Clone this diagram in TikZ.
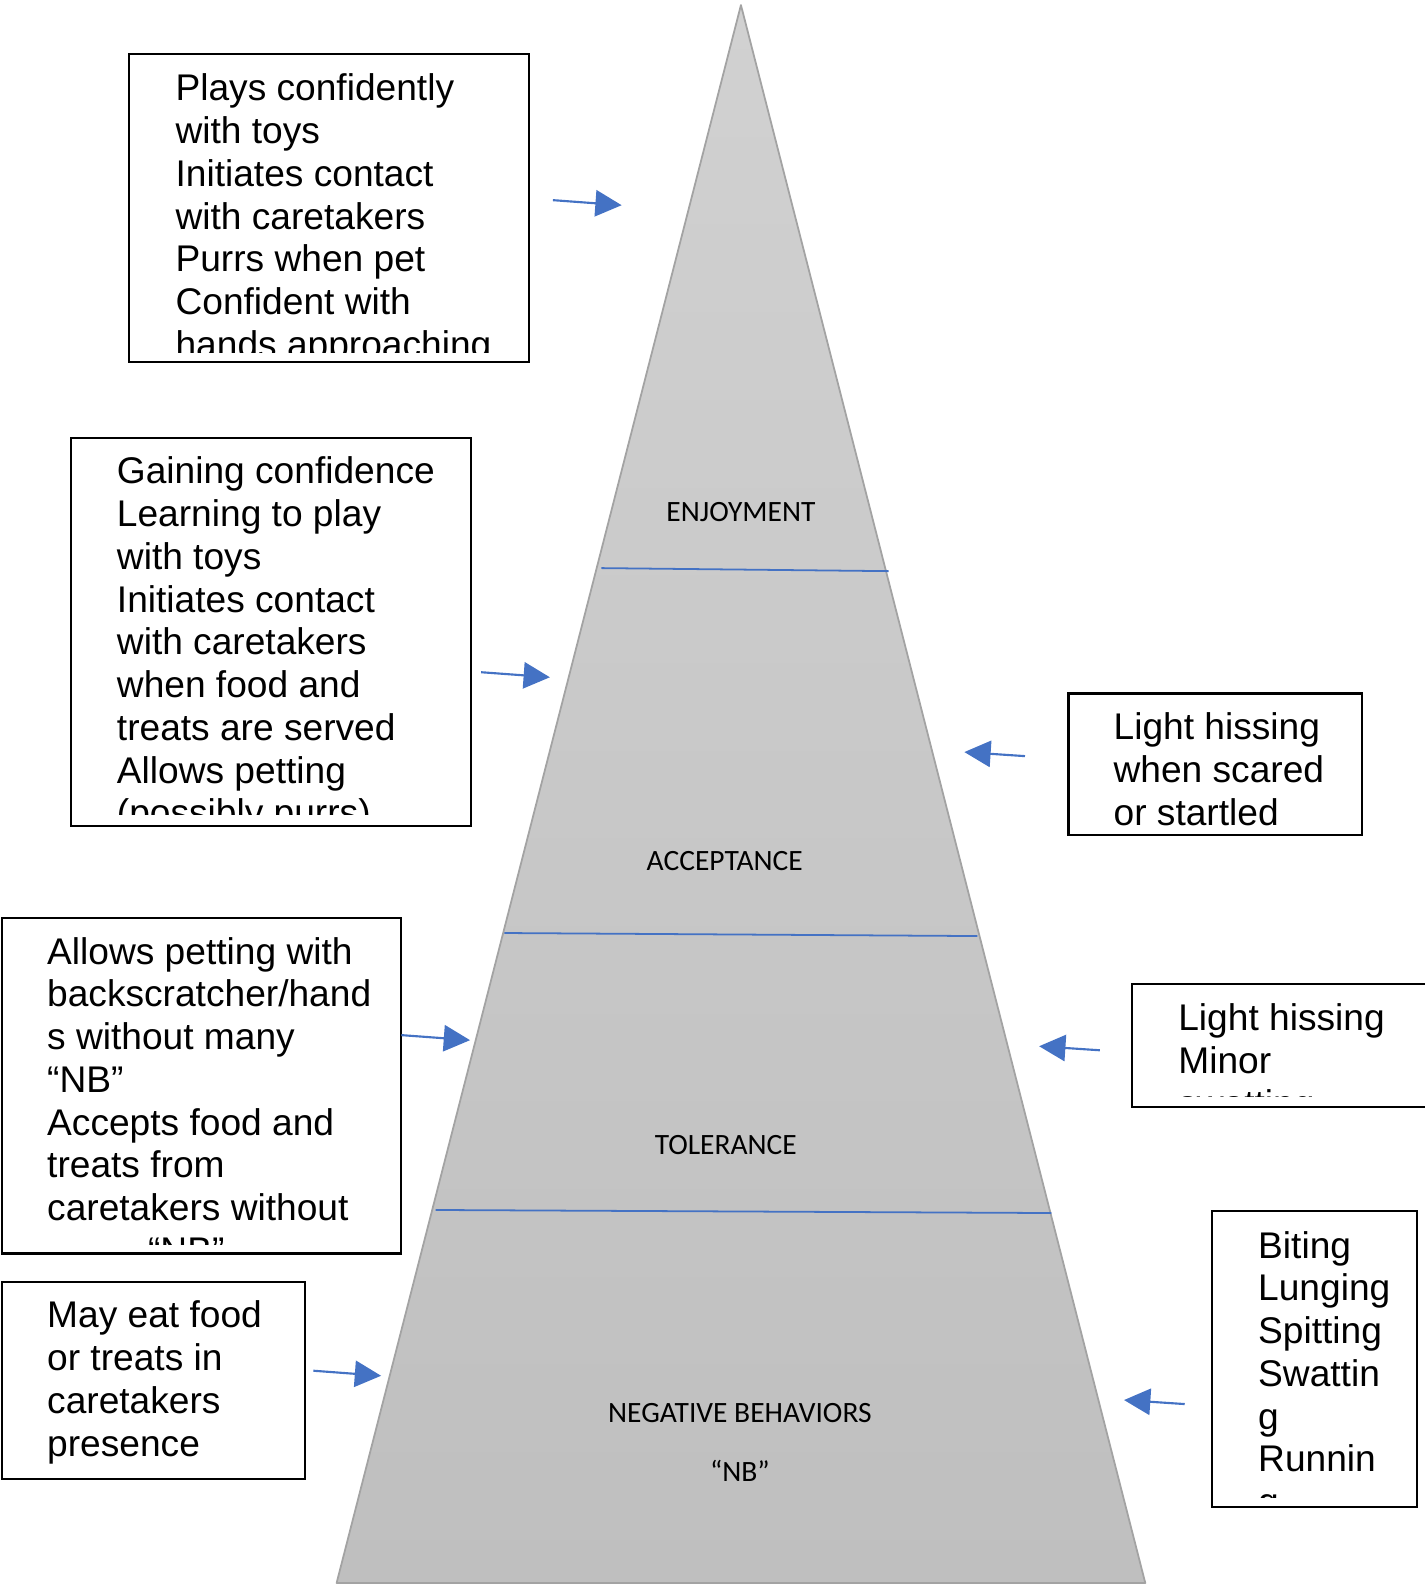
\documentclass[tikz,border=0pt]{standalone}
\usepackage{fontspec}
\setmainfont{Liberation Sans}
\newfontfamily\calibri{Carlito}
\usetikzlibrary{arrows.meta,fit}
\definecolor{arrblue}{HTML}{4472C4}
\definecolor{pyredge}{HTML}{A3A3A3}
\definecolor{pyrtop}{HTML}{D1D1D1}
\definecolor{pyrbot}{HTML}{BFBFBF}
\begin{document}
\begin{tikzpicture}[x=0.1mm,y=-0.1mm,
  boxtext/.style={anchor=north west, inner sep=0pt, align=left, font=\fontsize{10.45}{12.03}\selectfont},
  frame/.style={draw=black, line width=0.6pt, inner sep=0pt},
  levellabel/.style={anchor=base, inner sep=0pt, font=\calibri\fontsize{8.3}{10}\selectfont},
  divider/.style={draw=arrblue, line width=0.5pt},
  pointer/.style={draw=arrblue, line width=0.6pt, -{Triangle[length=7.4pt,width=7.4pt]}}]
\useasboundingbox (0,0) rectangle (1409,1568);

% pyramid
\coordinate (apex) at (733,5);
\coordinate (bl) at (333,1566);
\coordinate (br) at (1133,1566);
\shade[top color=pyrtop, bottom color=pyrbot] (apex) -- (bl) -- (br) -- cycle;
\draw[pyredge, line width=0.5pt, line join=round] (apex) -- (bl) -- (br) -- cycle;

% dividers
\coordinate (d1l) at (595,562); \coordinate (d1r) at (879,565);
\coordinate (d2l) at (499,923); \coordinate (d2r) at (967,926);
\coordinate (d3l) at (431,1197); \coordinate (d3r) at (1040,1200);
\draw[divider] (d1l) -- (d1r);
\draw[divider] (d2l) -- (d2r);
\draw[divider] (d3l) -- (d3r);

% level labels
\node[levellabel] (enj) at (733,516) {ENJOYMENT};
\node[levellabel] (acc) at (717,861) {ACCEPTANCE};
\node[levellabel] (tol) at (718,1142) {TOLERANCE};
\node[levellabel] (neg) at (732,1407) {NEGATIVE BEHAVIORS};
\node[levellabel] (nb) at (732,1466) {“NB”};

% box 1
\begin{scope}
\clip (128,53) rectangle (523,349);
\node[boxtext] (t1) at (173,69.4) {\strut Plays confidently\\with toys\\Initiates contact\\with caretakers\\Purrs when pet\\Confident with\\hands approaching};
\end{scope}
\node[frame, fit={(128,53) (523,358)}] (b1) {};

% box 2
\begin{scope}
\clip (70,433) rectangle (466,806);
\node[boxtext] (t2) at (115,448.4) {\strut Gaining confidence\\Learning to play\\with toys\\Initiates contact\\with caretakers\\when food and\\treats are served\\Allows petting\\(possibly purrs)};
\end{scope}
\node[frame, fit={(70,433) (466,817)}] (b2) {};

% box 3
\begin{scope}
\clip (2,908) rectangle (397,1231);
\node[boxtext] (t3) at (46,923.4) {\strut Allows petting with\\backscratcher/hand\\s without many\\“NB”\\Accepts food and\\treats from\\caretakers without\\\hspace*{28.4pt}“NB”};
\end{scope}
\node[frame, fit={(2,908) (397,1240)}] (b3) {};

% box 4
\node[boxtext] (t4) at (46,1283.4) {\strut May eat food\\or treats in\\caretakers\\presence};
\node[frame, fit={(2,1268) (302,1463)}] (b4) {};

% box 5
\node[boxtext] (t5) at (1101,701.4) {\strut Light hissing\\when scared\\or startled};
\node[frame, fit={(1057,686) (1347,826)}] (b5) {};

% box 6
\begin{scope}
\clip (1120,973) rectangle (1440,1085);
\node[boxtext] (t6) at (1165,989.4) {\strut Light hissing\\Minor\\swatting};
\end{scope}
\node[frame, fit={(1120,973) (1440,1095)}] (b6) {};

% box 7
\begin{scope}
\clip (1199,1198) rectangle (1402,1481);
\node[boxtext] (t7) at (1244,1214.4) {\strut Biting\\Lunging\\Spitting\\Swattin\\g\\Runnin\\g};
\end{scope}
\node[frame, fit={(1199,1198) (1402,1491)}] (b7) {};

% arrows
\coordinate (a1s) at (547,198); \coordinate (a1e) at (615,203);
\coordinate (a2s) at (476,665); \coordinate (a2e) at (544,670);
\coordinate (a3s) at (397,1024); \coordinate (a3e) at (465,1029);
\coordinate (a4s) at (310,1356); \coordinate (a4e) at (377,1361);
\coordinate (a5s) at (1014,748); \coordinate (a5e) at (954,744);
\coordinate (a6s) at (1088,1039); \coordinate (a6e) at (1028,1035);
\coordinate (a7s) at (1172,1389); \coordinate (a7e) at (1112,1385);
\draw[pointer] (a1s) -- (a1e);
\draw[pointer] (a2s) -- (a2e);
\draw[pointer] (a3s) -- (a3e);
\draw[pointer] (a4s) -- (a4e);
\draw[pointer] (a5s) -- (a5e);
\draw[pointer] (a6s) -- (a6e);
\draw[pointer] (a7s) -- (a7e);
\end{tikzpicture}
\end{document}
